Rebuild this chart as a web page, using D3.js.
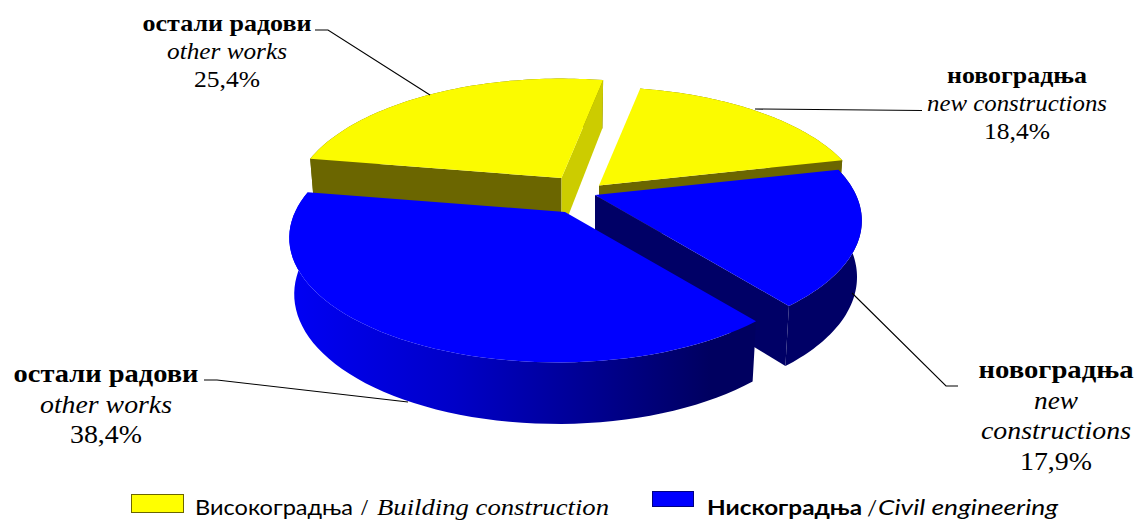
<!DOCTYPE html>
<html>
<head>
<meta charset="utf-8">
<script src="https://cdn.jsdelivr.net/npm/d3@7"></script>
<style>
html, body { margin: 0; padding: 0; background: #fff; overflow: hidden; }
svg { display: block; }
</style>
</head>
<body>
<script>
// data, clockwise from the yellow "other works" slice
const categories = ["остали радови", "новоградња", "новоградња", "остали радови"];
const categoriesEn = [["other works"], ["new constructions"], ["new", "constructions"], ["other works"]];
const values = [25.4, 18.4, 17.9, 38.4];
const legendSr = ["Високоградња", "Нискоградња"];
const legendEn = ["Building construction", "Civil engineering"];

const width = 1139, height = 520;
const svg = d3.select("body").append("svg").attr("width", width).attr("height", height);

// pie look
const topColor = ["#fbfb00", "#fbfb00", "#0000ff", "#0000ff"];
const wallColor = ["#6b6600", "#6b6600", "#000066", "url(#wallBlue)"];
const cutColor = ["#cccc00", "#6b6600", "#000066", "#000066"];
const center = { x: 580, y: 195 };
const explode = [[-18.5, -17], [19, -9.5], [15, 0], [-15, 17]];
const sizeFix = [0.995, 0.985, 0.985, 0.989];
const skew = [0, 0, 0, 0.03];
const R = 265, tilt = 0.455, persp = 0.207, depth = 55;

const defs = svg.append("defs");
const grad = defs.append("linearGradient").attr("id", "wallBlue")
    .attr("gradientUnits", "userSpaceOnUse")
    .attr("x1", 290).attr("x2", 757).attr("y1", 0).attr("y2", 0);
[[0, "#0000f5"], [0.35, "#0000c8"], [0.65, "#000090"], [0.9, "#000060"], [1, "#000060"]].forEach(function (d) {
    grad.append("stop").attr("offset", d[0]).attr("stop-color", d[1]);
});

// disc -> screen with a bit of perspective, lower: 0 top face, 1 bottom face
function project(a, r, o, lower, i) {
    let c = Math.cos(a), sn = Math.sin(a);
    let s = 1 / (1 + persp * c * r);
    let rad = R * sizeFix[i] * (1 - skew[i] * sn) * r;
    return [
        o.x + rad * sn * s * (1 - 0.018 * lower),
        o.y - rad * c * s * tilt * (1 - 0.008 * lower) + lower * depth * (1 - 0.14 * c * r)
    ];
}

const pie = d3.pie().sort(null).startAngle(-80.4 * Math.PI / 180).endAngle(279.6 * Math.PI / 180);
const line = d3.line();
const slices = pie(values);

slices.forEach(function (d, i) {
    let o = { x: center.x + explode[i][0], y: center.y + explode[i][1] };
    let angles = d3.range(0, 61).map(function (k) {
        return d.startAngle + (d.endAngle - d.startAngle) * k / 60;
    });
    let g = svg.append("g").attr("class", "slice");
    let top = angles.map(function (a) { return project(a, 1, o, 0, i); });
    let bottom = angles.map(function (a) { return project(a, 1, o, 1, i); }).reverse();

    // outer wall
    g.append("path").attr("d", line(top.concat(bottom)) + "Z").attr("fill", wallColor[i]);
    // cut faces, only the ones turned to the viewer
    [d.startAngle, d.endAngle].forEach(function (a, n) {
        let quad = [project(a, 0, o, 0, i), project(a, 1, o, 0, i), project(a, 1, o, 1, i), project(a, 0, o, 1, i)];
        let fill = (i == 0 && n == 0) ? wallColor[0] : cutColor[i];
        if ((i == 0) || (i == 1 && n == 1) || (i == 2 && n == 1)) {
            g.append("path").attr("d", line(quad) + "Z").attr("fill", fill);
        }
    });
    // top
    g.append("path")
        .attr("d", line([[o.x, o.y]].concat(top)) + "Z")
        .attr("fill", topColor[i]);
});

// leader lines
const leaders = [
    [[315, 30], [328, 30], [430, 95]],
    [[755, 109], [922, 110.5]],
    [[852, 293], [946, 386], [958, 386]],
    [[204, 380], [217, 380], [408, 402]]
];
svg.selectAll(".leader").data(leaders).enter().append("path")
    .attr("class", "leader")
    .attr("d", function (d) { return line(d); })
    .attr("fill", "none").attr("stroke", "#000").attr("stroke-width", 1.1);

// labels
const serif = "'Liberation Serif', serif";
const sans = "Lato, 'Noto Sans', sans-serif";
const labelPos = [
    { x: 227, base: 31, step: 28, size: 23, w: [169, 120, 66] },
    { x: 1017, base: 83, step: 28, size: 23, w: [140, 180, 66] },
    { x: 1056, base: 378, step: 30.7, size: 25, w: [155, 44, 150, 72] },
    { x: 106, base: 382, step: 30.5, size: 25, w: [185, 132, 72] }
];
function putText(x, y, str, w, size, family, bold, italic, anchor) {
    return svg.append("text").attr("x", x).attr("y", y)
        .attr("text-anchor", anchor || "middle")
        .attr("font-family", family).attr("font-size", size)
        .attr("font-weight", bold ? "bold" : "normal")
        .attr("font-style", italic ? "italic" : "normal")
        .attr("textLength", w).attr("lengthAdjust", "spacingAndGlyphs")
        .attr("fill", "#000").text(str);
}
slices.forEach(function (d, i) {
    let p = labelPos[i];
    let lines = [categories[i]].concat(categoriesEn[i]);
    lines.forEach(function (t, n) {
        putText(p.x, p.base + n * p.step, t, p.w[n], p.size, serif, n == 0, n > 0);
    });
    let pct = d.value.toFixed(1).replace(".", ",") + "%";
    putText(p.x, p.base + lines.length * p.step, pct, p.w[lines.length], p.size, serif, false, false);
});

// legend
svg.append("rect").attr("x", 131.5).attr("y", 494.5).attr("width", 52).attr("height", 18)
    .attr("fill", "#ffff00").attr("stroke", "#6b6600");
svg.append("rect").attr("x", 652.5).attr("y", 491.5).attr("width", 41).attr("height", 15)
    .attr("fill", "#0000ff").attr("stroke", "#000080");
putText(195, 514.5, legendSr[0], 158, 22, sans, false, false, "start");
putText(361, 514.5, "/", 7, 23, serif, false, false, "start");
putText(377, 514.5, legendEn[0], 232, 24, serif, false, true, "start");
putText(707, 514.5, legendSr[1], 155, 21, sans, true, false, "start");
putText(868, 514.5, "/", 8, 22, sans, false, true, "start");
putText(878, 514.5, legendEn[1], 180, 22, sans, false, true, "start");
</script>
</body>
</html>
